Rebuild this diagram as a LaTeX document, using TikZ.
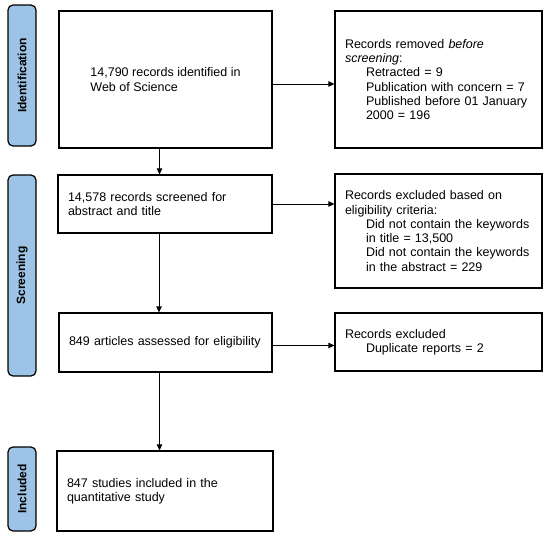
\documentclass[tikz,border=0pt]{standalone}
\usepackage{fontspec}
\setmainfont{Liberation Sans}
\usepackage{xcolor}
\usetikzlibrary{arrows.meta,positioning,calc}
\definecolor{phaseblue}{RGB}{157,195,230}
\newcommand{\ind}{\hspace*{21pt}}
\tikzset{
  box/.style={draw, line width=1.2pt, align=left, inner xsep=10pt, inner ysep=4pt,
    font=\fontsize{12.5}{14.3}\selectfont},
  lbox/.style={box, text width=#1},
  phase/.style={draw, line width=1.2pt, rounded corners=5pt, fill=phaseblue, rotate=90,
    minimum height=28pt, inner sep=2pt, font=\fontsize{12}{14}\selectfont\bfseries},
  line/.style={-{Triangle[length=6pt,width=5.5pt]}, line width=0.8pt}
}

\begin{document}
\begin{tikzpicture}[x=1pt, y=-1pt]
        \useasboundingbox (0,0) rectangle (550,538);
        % phases
        \node[phase, minimum width=141pt] (pid) at (22,75.5) {Identification};
        \node[phase, minimum width=201pt] (pscr) at (22,275.5) {Screening};
        \node[phase, minimum width=84pt] (pinc) at (22,489) {Included};
        % main column
        \node[box, minimum width=213pt, minimum height=137pt] (identified) at (165.5,79.5)
          {14,790 records identified in\\Web of Science};
        \node[lbox=194pt, minimum width=214pt, minimum height=58pt] (screened) at (165,204)
          {14,578 records screened for\\abstract and title};
        \node[lbox=193pt, minimum width=213pt, minimum height=59pt] (assessed) at (165.5,342.5)
          {849 articles assessed for eligibility};
        \node[lbox=196pt, minimum width=216pt, minimum height=80pt] (included) at (165,491)
          {847 studies included in the\\quantitative study};
        % side column
        \node[lbox=187pt, minimum width=207pt, minimum height=137pt] (removed) at (438.5,79.5)
          {Records removed \textit{before}\\\textit{screening}:\\
           \ind Retracted = 9\\\ind Publication with concern = 7\\
           \ind Published before 01 January\\\ind 2000 = 196};
        \node[lbox=187pt, minimum width=207pt, minimum height=114pt] (excluded) at (438.5,231)
          {Records excluded based on\\eligibility criteria:\\
           \ind Did not contain the keywords\\\ind in title = 13,500\\
           \ind Did not contain the keywords\\\ind in the abstract = 229};
        \node[lbox=187pt, minimum width=207pt, minimum height=58pt] (duplicate) at (438.5,342)
          {Records excluded\\\ind Duplicate reports = 2};
        % arrows
        \draw[line] ([xshift=-6pt]identified.south) -- ([xshift=-6pt]identified.south |- screened.north);
        \draw[line] ([xshift=-6pt]screened.south) -- ([xshift=-6pt]screened.south |- assessed.north);
        \draw[line] ([xshift=-6pt]assessed.south) -- ([xshift=-6pt]assessed.south |- included.north);
        \draw[line] ([yshift=-4.5pt]identified.east) -- ([yshift=-4.5pt]removed.west);
        \draw[line] (screened.east) -- (screened.east -| excluded.west);
        \draw[line] ([yshift=-3pt]assessed.east) -- ([yshift=-3pt]assessed.east -| duplicate.west);
      \end{tikzpicture}
\end{document}
